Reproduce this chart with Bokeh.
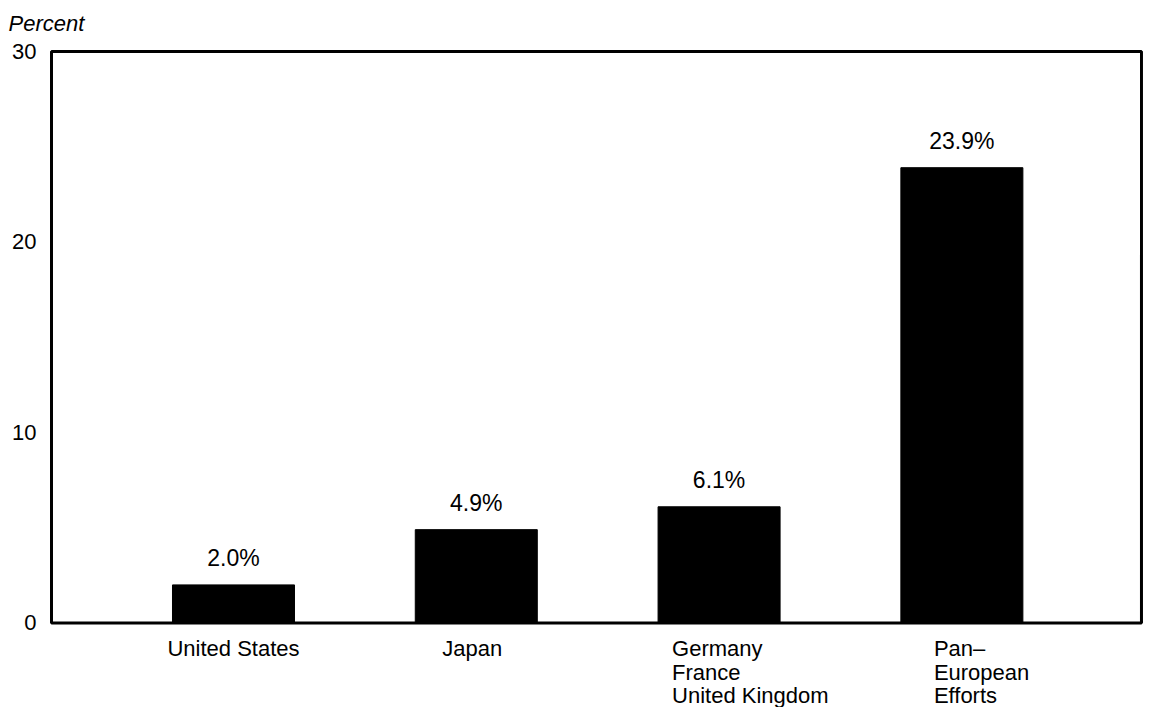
from bokeh.plotting import figure
from bokeh.models import ColumnDataSource, LabelSet, Label, Range1d, BoxAnnotation
from bokeh.core.properties import value
from bokeh.embed import file_html
from bokeh.resources import INLINE

# Share of spending, by program
categories = ["United States", "Japan", "Germany\nFrance\nUnited Kingdom", "Pan–\nEuropean\nEfforts"]
values = [2.0, 4.9, 6.1, 23.9]
value_labels = ["2.0%", "4.9%", "6.1%", "23.9%"]
y_ticks = [0, 10, 20, 30]
y_tick_labels = ["0", "10", "20", "30"]
y_limits = (0, 30)
y_title = "Percent"

FONT = "Liberation Sans"

positions = list(range(len(categories)))

# The plotting frame fills the whole canvas so that every text can be placed
# in data space; the visible chart box is drawn as an annotation.
box_x = (-0.7496, 3.7397)
p = figure(width=1151, height=707, output_backend="svg", toolbar_location=None,
           x_range=Range1d(-0.9596, 3.781), y_range=Range1d(-4.436, 32.677))
p.min_border_left = 0
p.min_border_right = 0
p.min_border_top = 0
p.min_border_bottom = 0

p.outline_line_color = None
p.background_fill_color = "white"
p.border_fill_color = "white"
p.xgrid.visible = False
p.ygrid.visible = False
p.xaxis.visible = False
p.yaxis.visible = False

bars = ColumnDataSource(dict(x=positions, top=values, label=value_labels))
p.vbar(x="x", top="top", width=0.5025, source=bars,
       fill_color="black", line_color="black")

p.add_layout(BoxAnnotation(left=box_x[0], right=box_x[1],
                           bottom=y_limits[0], top=y_limits[1],
                           fill_alpha=0, line_color="black", line_alpha=1,
                           line_width=3))

# Value axis: tick labels to the left of the box and the unit above it
ticks = ColumnDataSource(dict(x=[box_x[0]] * len(y_ticks), y=y_ticks, text=y_tick_labels))
p.add_layout(LabelSet(x="x", y="y", text="text", source=ticks,
                      x_offset=-15, text_align="right", text_baseline="middle",
                      text_font=value(FONT), text_font_size=value("22px"),
                      text_color="black"))
p.add_layout(Label(x=box_x[0], y=y_limits[1], text=y_title,
                   x_offset=-43, y_offset=28, text_align="left",
                   text_baseline="alphabetic", text_font=FONT,
                   text_font_style="italic", text_font_size="22px",
                   text_color="black"))

# Values above the bars
p.add_layout(LabelSet(x="x", y="top", text="label", source=bars,
                      y_offset=19, text_align="center", text_baseline="alphabetic",
                      text_font=value(FONT), text_font_size=value("23px"),
                      text_color="black"))

# Category names below the axis, one label per line of text
label_dx = [0, -4, -47, -28]
for pos, name, dx in zip(positions, categories, label_dx):
    lines = name.split("\n")
    align = "center" if len(lines) == 1 else "left"
    for i, line in enumerate(lines):
        p.add_layout(Label(x=pos, y=0, text=line, x_offset=dx,
                           y_offset=-(26 + 23.5 * i), text_align=align,
                           text_baseline="alphabetic", text_font=FONT,
                           text_font_size="22px", text_color="black"))

open("out.html", "w").write(file_html(p, INLINE))
